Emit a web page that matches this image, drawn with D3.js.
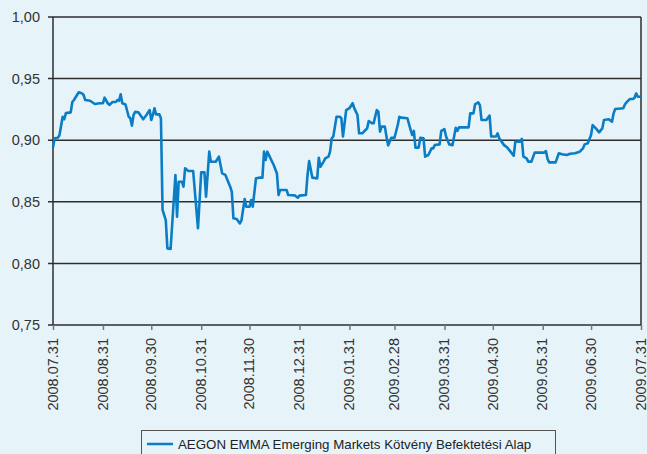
<!DOCTYPE html>
<html>
<head>
<meta charset="utf-8">
<script src="https://cdn.jsdelivr.net/npm/d3@7"></script>
<style>
  body { margin: 0; background: #e6f4fa; }
  svg { display: block; font-family: "Liberation Sans", Arial, sans-serif; }
</style>
</head>
<body>
<svg id="chart" width="647" height="454"></svg>
<script>
// Napok száma 2008.07.31-től és a hozzájuk tartozó árfolyam
const dayOffsets = [
  0, 1, 3, 4, 6, 7, 8, 11, 12, 13, 16, 18, 19, 20, 23, 26, 29, 31, 32, 34,
  35, 37, 39, 40, 41, 42, 43, 45, 47, 48, 49, 50, 51, 53, 56, 58, 60, 61, 62, 63,
  64, 66, 67, 68, 70, 71, 73, 76, 77, 78, 80, 81, 82, 84, 87, 90, 92, 94, 95, 97,
  98, 101, 103, 105, 107, 110, 111, 112, 114, 116, 117, 119, 120, 122, 123, 124, 126, 128, 130, 131,
  132, 133, 135, 137, 139, 140, 141, 145, 146, 150, 152, 153, 157, 158, 159, 161, 164, 165, 166, 168,
  169, 171, 172, 173, 174, 176, 178, 179, 180, 182, 184, 186, 187, 189, 190, 192, 194, 195, 196, 198,
  199, 201, 202, 203, 204, 206, 207, 208, 210, 212, 214, 215, 216, 220, 222, 223, 224, 225, 227, 228,
  230, 231, 233, 235, 236, 237, 240, 241, 243, 244, 246, 248, 250, 251, 252, 258, 259, 261, 262, 264,
  265, 266, 269, 271, 272, 275, 276, 277, 280, 282, 284, 286, 287, 290, 291, 292, 294, 295, 297, 299,
  305, 306, 307, 308, 312, 314, 316, 319, 321, 324, 327, 329, 330, 332, 334, 335, 337, 339, 341, 342,
  345, 347, 348, 349, 354, 355, 356, 358, 360, 361, 362, 363, 365
]
const prices = [
  0.894, 0.9015, 0.902, 0.904, 0.919, 0.917, 0.922, 0.9226, 0.931, 0.9326, 0.9389, 0.938, 0.9367, 0.9326, 0.932, 0.9294, 0.930, 0.930, 0.9345, 0.930,
  0.9286, 0.931, 0.931, 0.9326, 0.932, 0.9373, 0.930, 0.929, 0.919, 0.9178, 0.9118, 0.9205, 0.923, 0.9226, 0.917, 0.9205, 0.9245, 0.9164, 0.9205, 0.9259,
  0.921, 0.921, 0.9178, 0.8434, 0.8352, 0.8122, 0.8117, 0.8718, 0.838, 0.8663, 0.8663, 0.8623, 0.8772, 0.875, 0.875, 0.8285, 0.8739, 0.8739, 0.8542, 0.8907,
  0.8825, 0.8825, 0.8866, 0.8731, 0.8718, 0.8623, 0.858, 0.8366, 0.836, 0.8325, 0.835, 0.8523, 0.846, 0.846, 0.8515, 0.846, 0.869, 0.8696, 0.8696, 0.8907,
  0.884, 0.8907, 0.8853, 0.8799, 0.873, 0.8555, 0.8596, 0.8596, 0.8555, 0.8552, 0.8533, 0.855, 0.8555, 0.8718, 0.883, 0.8696, 0.869, 0.8858, 0.8785, 0.8826,
  0.8853, 0.8866, 0.8907, 0.9015, 0.903, 0.919, 0.919, 0.9178, 0.903, 0.9245, 0.926, 0.930, 0.926, 0.9205, 0.9056, 0.9056, 0.9083, 0.9096, 0.9156, 0.9137,
  0.9137, 0.9245, 0.923, 0.907, 0.911, 0.911, 0.903, 0.8958, 0.902, 0.902, 0.9123, 0.919, 0.9183, 0.9178, 0.9083, 0.9042, 0.9075, 0.894, 0.894, 0.902,
  0.9015, 0.8866, 0.888, 0.8934, 0.8934, 0.8961, 0.8966, 0.9075, 0.9089, 0.903, 0.8966, 0.896, 0.910, 0.9075, 0.9104, 0.9104, 0.9218, 0.9218, 0.9291, 0.9307,
  0.9285, 0.9164, 0.9164, 0.920, 0.903, 0.903, 0.9056, 0.9015, 0.896, 0.894, 0.8907, 0.8874, 0.8988, 0.8988, 0.901, 0.8866, 0.8853, 0.8826, 0.8826, 0.8899,
  0.8899, 0.8912, 0.8847, 0.882, 0.882, 0.8894, 0.8886, 0.888, 0.889, 0.8894, 0.8907, 0.8934, 0.8966, 0.8975, 0.9042, 0.9123, 0.9096, 0.9064, 0.9096, 0.9164,
  0.917, 0.915, 0.9218, 0.9253, 0.9259, 0.929, 0.9307, 0.9334, 0.9334, 0.9345, 0.938, 0.9353, 0.9353
]
const tickDates = [
  '2008.07.31', '2008.08.31', '2008.09.30', '2008.10.31', '2008.11.30', '2008.12.31', '2009.01.31',
  '2009.02.28', '2009.03.31', '2009.04.30', '2009.05.31', '2009.06.30', '2009.07.31'
]
const yTicks = [0.75, 0.80, 0.85, 0.90, 0.95, 1.00]
const seriesName = 'AEGON EMMA Emerging Markets Kötvény Befektetési Alap'

const parse = d3.timeParse('%Y.%m.%d')
const startDate = parse(tickDates[0])
const data = dayOffsets.map((d, i) => ({ date: d3.timeDay.offset(startDate, d), value: prices[i] }))

const svg = d3.select('#chart')
const plotLeft = 53, plotRight = 641, plotTop = 17, plotBottom = 325

const x = d3.scaleTime()
  .domain([startDate, parse(tickDates[tickDates.length - 1])])
  .range([plotLeft, plotRight])

const y = d3.scaleLinear()
  .domain([0.75, 1.00])
  .range([plotBottom, plotTop])

const comma = d3.formatLocale({ decimal: ',', thousands: ' ', grouping: [3], currency: ['', ''] }).format('.2f')

// vízszintes rácsvonalak (a tengely bal oldalán kis kinyúlással)
svg.append('g')
  .selectAll('line')
  .data(yTicks)
  .join('line')
  .attr('x1', plotLeft - 5)
  .attr('x2', plotRight)
  .attr('y1', d => y(d))
  .attr('y2', d => y(d))
  .attr('stroke', '#2e2e2e')
  .attr('stroke-width', 1.5)

// függőleges keretek
svg.append('line')
  .attr('x1', plotLeft).attr('x2', plotLeft)
  .attr('y1', plotTop).attr('y2', plotBottom)
  .attr('stroke', '#2e2e2e').attr('stroke-width', 1.5)
svg.append('line')
  .attr('x1', plotRight).attr('x2', plotRight)
  .attr('y1', plotTop).attr('y2', plotBottom)
  .attr('stroke', '#2e2e2e').attr('stroke-width', 1.5)

// y feliratok
svg.append('g')
  .selectAll('text')
  .data(yTicks)
  .join('text')
  .attr('x', 40)
  .attr('y', d => y(d))
  .attr('dy', '0.36em')
  .attr('text-anchor', 'end')
  .attr('font-size', 14.5)
  .attr('fill', '#333')
  .text(d => comma(d))

// x tengely
const xAxis = svg.append('g')
  .attr('transform', `translate(0,${plotBottom})`)
  .call(d3.axisBottom(x)
    .tickValues(tickDates.map(parse))
    .tickSize(5)
    .tickFormat(d3.timeFormat('%Y.%m.%d')))
xAxis.select('.domain').remove()
xAxis.selectAll('.tick line').attr('stroke', '#777').attr('stroke-width', 1.5)
xAxis.selectAll('.tick text')
  .attr('font-size', 14.5)
  .attr('fill', '#333')
  .attr('font-family', '"Liberation Sans", Arial, sans-serif')
  .attr('transform', 'rotate(-90)')
  .attr('text-anchor', 'end')
  .attr('x', -13)
  .attr('y', -1)
  .attr('dy', '0.36em')

// árfolyamgörbe
const line = d3.line()
  .x(d => x(d.date))
  .y(d => y(d.value))

svg.append('path')
  .datum(data)
  .attr('fill', 'none')
  .attr('stroke', '#0b7dc5')
  .attr('stroke-width', 2.6)
  .attr('stroke-linejoin', 'round')
  .attr('d', line)

// jelmagyarázat
const legend = svg.append('g')
legend.append('rect')
  .attr('x', 141.5).attr('y', 430.5)
  .attr('width', 414).attr('height', 40)
  .attr('fill', 'none')
  .attr('stroke', '#555')
legend.append('line')
  .attr('x1', 147).attr('x2', 173)
  .attr('y1', 444).attr('y2', 444)
  .attr('stroke', '#0b7dc5').attr('stroke-width', 2.5)
legend.append('text')
  .attr('x', 178).attr('y', 444)
  .attr('dy', '0.36em')
  .attr('font-size', 13.3)
  .attr('fill', '#222')
  .text(seriesName)
</script>
</body>
</html>
